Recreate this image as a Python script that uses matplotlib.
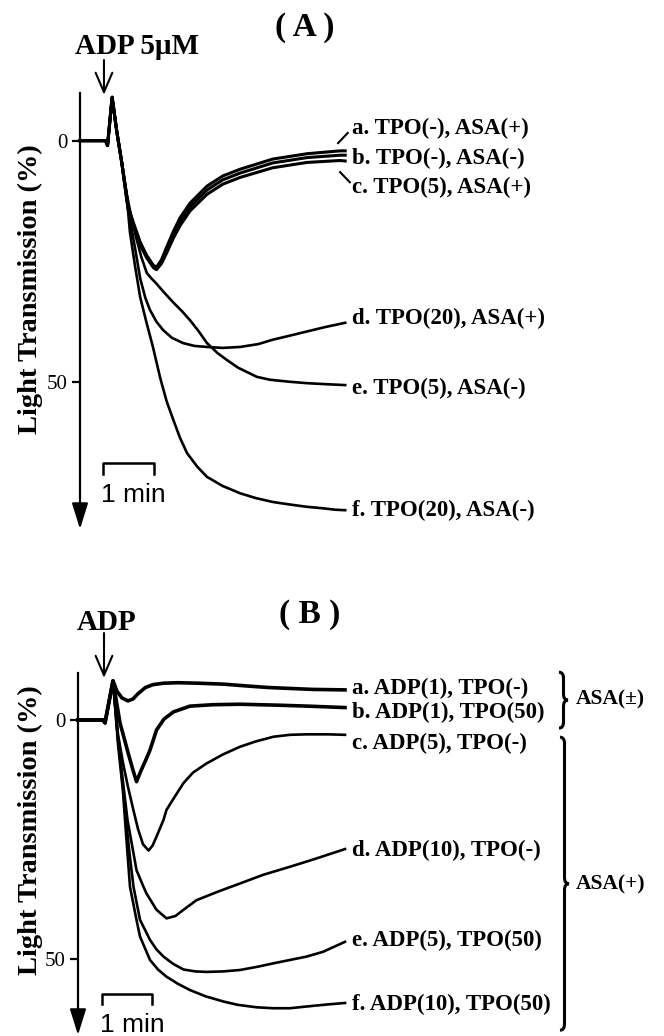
import matplotlib.pyplot as plt
from matplotlib.path import Path
from matplotlib.patches import PathPatch

plt.rcParams['font.family'] = ['Liberation Serif', 'DejaVu Serif']

# ---- Panel A: ADP 5uM, time (min) vs light transmission (%) ----
tA_abc = [0, 0.5, 0.54, 0.63, 0.72, 0.82, 0.94, 1.04, 1.18, 1.31, 1.44, 1.5, 1.6, 1.7,
          1.83, 1.96, 2.16, 2.49, 2.8, 3.14, 3.78, 4.45, 5.1, 5.2]
vA_a = [0, 0, 1, -9, -2, 4.6, 13.5, 16.8, 21, 23.8, 25.8, 26.2, 24.6, 22, 18.8, 16, 12.9,
        9.4, 7.3, 5.9, 3.8, 2.7, 2.1, 2.1]
vA_b = [0, 0, 1, -9, -2, 4.6, 13.7, 17, 21.3, 24, 26, 26.4, 25, 22.6, 19.5, 16.8, 13.7,
        10.2, 8.1, 6.7, 4.6, 3.5, 3.0, 3.0]
vA_c = [0, 0, 1, -9, -2, 4.6, 14, 17.3, 21.6, 24.3, 26.3, 26.7, 25.4, 23.2, 20.2, 17.6, 14.5,
        11.1, 9.0, 7.6, 5.6, 4.5, 4.1, 4.2]
tA_d = [0, 0.5, 0.54, 0.63, 0.72, 0.82, 0.92, 1.0, 1.1, 1.18, 1.28, 1.37, 1.5, 1.63, 1.8,
        2.02, 2.25, 2.49, 2.8, 3.14, 3.5, 3.78, 4.1, 4.45, 4.8, 5.2]
vA_d = [0, 0, 1, -9, -2, 4.6, 11.5, 17.5, 23.5, 28.5, 32.5, 35, 37.5, 39.2, 40.8, 41.9,
        42.5, 42.7, 42.9, 42.7, 42.1, 41.2, 40.4, 39.5, 38.6, 37.7]
tA_e = [0, 0.5, 0.54, 0.63, 0.72, 0.82, 0.92, 1.0, 1.1, 1.2, 1.31, 1.4, 1.5, 1.63, 1.83,
        2.0, 2.16, 2.33, 2.49, 2.7, 2.88, 3.1, 3.47, 3.73, 4.1, 4.45, 4.8, 5.2]
vA_e = [0, 0, 1, -9, -2, 4.6, 11.2, 15.5, 20, 24, 27.4, 28.5, 29.6, 31.2, 33.5, 35.3, 37.2,
        39.5, 41.9, 44, 45.4, 47, 48.9, 49.5, 49.9, 50.2, 50.4, 50.6]
tA_f = [0, 0.5, 0.54, 0.63, 0.72, 0.82, 0.92, 0.98, 1.08, 1.18, 1.3, 1.43, 1.57, 1.7, 1.83,
        1.96, 2.1, 2.3, 2.49, 2.8, 3.14, 3.45, 3.78, 4.1, 4.45, 4.76, 5.0, 5.2]
vA_f = [0, 0, 1, -9, -2, 4.6, 12, 19, 26, 32.4, 37.5, 42.7, 49, 54, 57.8, 61.5, 64.7, 67.5,
        69.6, 71.5, 73, 74, 74.8, 75.3, 75.8, 76.1, 76.4, 76.5]
labelsA = ['a. TPO(-), ASA(+)', 'b. TPO(-), ASA(-)', 'c. TPO(5), ASA(+)',
           'd. TPO(20), ASA(+)', 'e. TPO(5), ASA(-)', 'f. TPO(20), ASA(-)']
labelA_y = [-2.6, 3.6, 9.6, 36.7, 51.2, 76.5]

# ---- Panel B: ADP dose, time (min) vs light transmission (%) ----
tB_a = [0, 0.5, 0.54, 0.7, 0.78, 0.88, 1.0, 1.1, 1.2, 1.35, 1.5, 1.71, 2.0, 2.4, 2.91,
        3.4, 3.8, 4.24, 4.7, 5.34]
vB_a = [0, 0, 0.6, -8.2, -6, -4.6, -4, -4.4, -5.5, -6.8, -7.4, -7.7, -7.8, -7.7, -7.5,
        -7.1, -6.8, -6.6, -6.4, -6.3]
tB_b = [0, 0.5, 0.54, 0.7, 0.84, 1.0, 1.1, 1.17, 1.26, 1.35, 1.44, 1.57, 1.72, 1.91, 2.24,
        2.7, 3.24, 4.0, 4.6, 5.34]
vB_b = [0, 0, 0.6, -8.2, 0.6, 6.8, 10.5, 12.9, 10.6, 8.5, 6.3, 2.1, -0.2, -1.7, -2.9,
        -3.2, -3.3, -3.1, -2.9, -2.6]
tB_c = [0, 0.5, 0.54, 0.7, 0.8, 0.9, 1.0, 1.1, 1.2, 1.3, 1.41, 1.49, 1.57, 1.71, 1.77,
        1.95, 2.11, 2.3, 2.57, 2.9, 3.24, 3.55, 3.91, 4.24, 4.57, 5.0, 5.34]
vB_c = [0, 0, 0.6, -8.2, 3, 9, 14, 18.5, 22.8, 26, 27.3, 26.3, 24.4, 20.9, 18.8, 15.8,
        13.2, 11, 9.1, 7.2, 5.6, 4.5, 3.5, 3.1, 3.0, 3.0, 3.1]
tB_d = [0, 0.5, 0.54, 0.7, 0.8, 0.9, 0.99, 1.11, 1.17, 1.31, 1.37, 1.57, 1.77, 1.95, 2.11,
        2.37, 2.8, 3.24, 3.7, 4.24, 4.7, 5.34]
vB_d = [0, 0, 0.6, -8.2, 4, 13, 20.9, 27.9, 31.4, 34.9, 36.3, 39.7, 41.5, 41, 39.7, 37.7,
        35.9, 34.2, 32.4, 30.7, 29.2, 27]
tB_e = [0, 0.5, 0.54, 0.7, 0.8, 0.9, 0.96, 1.03, 1.11, 1.24, 1.44, 1.57, 1.71, 1.9, 2.11,
        2.35, 2.57, 2.9, 3.24, 3.6, 3.91, 4.24, 4.57, 4.9, 5.34]
vB_e = [0, 0, 0.6, -8.2, 4, 14, 20.9, 27.9, 34.9, 41.8, 46, 48, 49.5, 51, 52.2, 52.6,
        52.7, 52.6, 52.3, 51.6, 50.9, 50.2, 49.5, 48.5, 46.4]
tB_f = [0, 0.5, 0.54, 0.7, 0.8, 0.9, 0.94, 0.99, 1.04, 1.17, 1.24, 1.44, 1.6, 1.77, 2.0,
        2.24, 2.55, 2.91, 3.2, 3.57, 3.9, 4.24, 4.7, 5.0, 5.34]
vB_f = [0, 0, 0.6, -8.2, 5, 15, 20.9, 27.9, 34.9, 41.8, 45.3, 50.2, 52.2, 53.7, 55.2,
        56.5, 57.8, 58.9, 59.6, 60.1, 60.3, 60.3, 59.8, 59.5, 59.2]
labelsB = ['a. ADP(1), TPO(-)', 'b. ADP(1), TPO(50)', 'c. ADP(5), TPO(-)',
           'd. ADP(10), TPO(-)', 'e. ADP(5), TPO(50)', 'f. ADP(10), TPO(50)']
labelB_y = [-6.7, -1.5, 5.0, 27.2, 46.2, 59.6]

W, H = 664, 1036
fig = plt.figure(figsize=(W / 100, H / 100), dpi=100)


def make_panel(top_px, bot_px, x0_px, px_min, y0_px, px_pct):
    ax = fig.add_axes([0, 1 - bot_px / H, 1, (bot_px - top_px) / H])
    ax.set_xlim(-x0_px / px_min, (W - x0_px) / px_min)
    ax.set_ylim((bot_px - y0_px) / px_pct, (top_px - y0_px) / px_pct)
    for s in ['top', 'right', 'bottom']:
        ax.spines[s].set_visible(False)
    ax.spines['left'].set_position(('data', 0))
    ax.spines['left'].set_linewidth(1.6)
    ax.set_xticks([])
    ax.set_yticks([0, 50])
    ax.tick_params(axis='y', length=6, width=1.6, pad=3, labelsize=15)
    return ax


def axis_arrow(ax, top, head, tip):
    ax.spines['left'].set_bounds(top, head)
    ax.annotate('', xy=(0, tip), xytext=(0, head - 1), annotation_clip=False,
                arrowprops=dict(arrowstyle='-|>,head_length=0.8,head_width=0.25',
                                color='k', lw=1.5, mutation_scale=20,
                                shrinkA=0, shrinkB=0))


def brace(ax, x0, y0, y1, w, r):
    ym = (y0 + y1) / 2
    xm = x0 + w / 2
    verts = [(x0, y0), (xm, y0), (xm, y0 + r), (xm, ym - r), (xm, ym), (x0 + w, ym),
             (xm, ym), (xm, ym + r), (xm, y1 - r), (xm, y1), (x0, y1)]
    codes = [Path.MOVETO, Path.CURVE3, Path.CURVE3, Path.LINETO, Path.CURVE3, Path.CURVE3,
             Path.CURVE3, Path.CURVE3, Path.LINETO, Path.CURVE3, Path.CURVE3]
    ax.add_patch(PathPatch(Path(verts, codes), fill=False, lw=2.2, clip_on=False))


lbl_kw = dict(fontsize=16.5, fontweight='bold', va='center', ha='left')

# ---------------- Panel A ----------------
axA = make_panel(0, 560, 80, 51, 140.7, 4.83)
axis_arrow(axA, -9.9, 75.9, 80.4)
for t, v in [(tA_abc, vA_a), (tA_abc, vA_b), (tA_abc, vA_c)]:
    axA.plot(t, v, color='k', lw=2.2, solid_joinstyle='round')
for t, v in [(tA_d, vA_d), (tA_e, vA_e), (tA_f, vA_f)]:
    axA.plot(t, v, color='k', lw=1.9, solid_joinstyle='round')
for lab, y in zip(labelsA, labelA_y):
    axA.text(5.33, y, lab, **lbl_kw)
axA.plot([5.06, 5.25], [0.5, -1.6], color='k', lw=1.5)
axA.plot([5.1, 5.29], [6.5, 8.6], color='k', lw=1.5)
axA.text(4.41, -23.5, '( A )', fontsize=24, fontweight='bold', ha='center', va='center')
axA.text(-0.1, -19.4, 'ADP 5\u03bcM', fontsize=21, fontweight='bold', ha='left', va='center')
axA.annotate('', xy=(0.47, -9.5), xytext=(0.47, -16.7),
             arrowprops=dict(arrowstyle='->,head_length=0.7,head_width=0.3', lw=1.5,
                             color='k', mutation_scale=20, shrinkA=0, shrinkB=0))
axA.plot([0.45, 0.45, 1.45, 1.45], [69, 66.7, 66.7, 69], color='k', lw=1.8)
axA.text(0.42, 73.4, '1 min', fontsize=19, family='Liberation Sans', ha='left', va='center')
axA.text(-0.98, 30.7, 'Light Transmission (%)', fontsize=20.5, fontweight='bold',
         rotation=90, ha='center', va='center')

# ---------------- Panel B ----------------
axB = make_panel(560, 1036, 78, 50, 720, 4.78)
axis_arrow(axB, -9.8, 61.7, 65.9)
for t, v in [(tB_a, vB_a), (tB_b, vB_b)]:
    axB.plot(t, v, color='k', lw=2.6, solid_joinstyle='round')
for t, v in [(tB_c, vB_c), (tB_d, vB_d), (tB_e, vB_e), (tB_f, vB_f)]:
    axB.plot(t, v, color='k', lw=1.9, solid_joinstyle='round')
for lab, y in zip(labelsB, labelB_y):
    axB.text(5.48, y, lab, **lbl_kw)
axB.text(4.64, -22, '( B )', fontsize=24, fontweight='bold', ha='center', va='center')
axB.text(-0.02, -20.3, 'ADP', fontsize=21, fontweight='bold', ha='left', va='center')
axB.annotate('', xy=(0.52, -8.8), xytext=(0.52, -18.2),
             arrowprops=dict(arrowstyle='->,head_length=0.7,head_width=0.3', lw=1.5,
                             color='k', mutation_scale=20, shrinkA=0, shrinkB=0))
axB.plot([0.48, 0.48, 1.48, 1.48], [59.4, 57.3, 57.3, 59.4], color='k', lw=1.8)
axB.text(0.45, 63.8, '1 min', fontsize=19, family='Liberation Sans', ha='left', va='center')
axB.text(-0.96, 23, 'Light Transmission (%)', fontsize=20.5, fontweight='bold',
         rotation=90, ha='center', va='center')
brace(axB, 9.62, -10.0, 1.7, 0.18, 1.3)
brace(axB, 9.64, 3.6, 64.9, 0.18, 1.3)
axB.text(9.95, -4.2, 'ASA(\u00b1)', fontsize=15.5, fontweight='bold', ha='left', va='center')
axB.text(9.95, 34.5, 'ASA(+)', fontsize=15.5, fontweight='bold', ha='left', va='center')

fig.savefig('out.png', dpi=100)
